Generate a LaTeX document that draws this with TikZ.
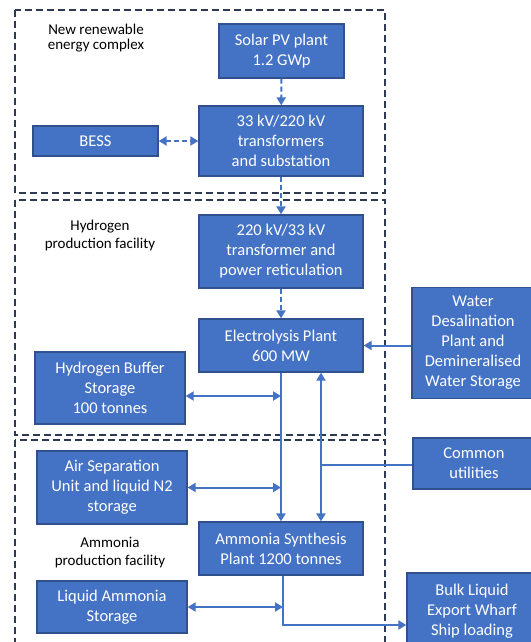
\documentclass[tikz,border=0pt]{standalone}
\usepackage{fontspec}
\setmainfont{Carlito}
\usetikzlibrary{arrows.meta,calc}
\definecolor{boxfill}{HTML}{4472C4}
\definecolor{boxline}{HTML}{2F528F}
\definecolor{framec}{HTML}{2E3A52}
\definecolor{arrowc}{HTML}{4472C4}
\begin{document}
\begin{tikzpicture}[x=1pt,y=-1pt,
  blk/.style={draw=boxline, line width=1.3pt, fill=boxfill, text=white, align=center, inner sep=0pt, font=\fontsize{16.5}{20}\selectfont},
  lbl/.style={align=center, text=black, inner sep=0pt, font=\fontsize{15}{18}\selectfont},
  frm/.style={draw=framec, line width=1.6pt, dash pattern=on 7pt off 4pt},
  con/.style={draw=arrowc, line width=2pt},
  dsh/.style={dash pattern=on 5pt off 3pt},
  tip/.style={-{Triangle[width=9pt,length=8pt]}},
  both/.style={{Triangle[width=9pt,length=8pt]}-{Triangle[width=9pt,length=8pt]}}]
\useasboundingbox (0,0) rectangle (530,642);
% frames
\draw[frm] (15,10) rectangle (385,193);
\draw[frm] (15,200) rectangle (385,435);
\draw[frm] (15,440) rectangle (385,670);
% labels
\node[lbl, font=\fontsize{15}{14.5}\selectfont] (l1) at (96,38) {New renewable\\energy complex};
\node[lbl] (l2) at (100,235) {Hydrogen\\production facility};
\node[lbl] (l3) at (110,553) {Ammonia\\production facility};
% boxes
\node[blk, minimum width=125pt, minimum height=54pt] (solar) at (281.5,51) {Solar PV plant\\1.2 GWp};
\node[blk, minimum width=164pt, minimum height=70pt] (tr) at (281,141) {33 kV/220 kV\\transformers\\and substation};
\node[blk, minimum width=125pt, minimum height=30pt] (bess) at (95.5,141) {BESS};
\node[blk, minimum width=164pt, minimum height=73pt] (t2) at (281,251.5) {220 kV/33 kV\\transformer and\\power reticulation};
\node[blk, minimum width=164pt, minimum height=53pt] (elec) at (281,345.5) {Electrolysis Plant\\600 MW};
\node[blk, minimum width=150pt, minimum height=72pt] (h2) at (110,388) {Hydrogen Buffer\\Storage\\100 tonnes};
\node[blk, minimum width=122pt, minimum height=111pt] (desal) at (473,343) {Water\\Desalination\\Plant and\\Demineralised\\Water Storage};
\node[blk, minimum width=122pt, minimum height=51pt] (cu) at (474,463.5) {Common\\utilities};
\node[blk, minimum width=150pt, minimum height=73pt] (air) at (112,487.5) {Air Separation\\Unit and liquid N2\\storage};
\node[blk, minimum width=164pt, minimum height=53pt] (amm) at (281,548.5) {Ammonia Synthesis\\Plant 1200 tonnes};
\node[blk, minimum width=150pt, minimum height=52pt] (liq) at (112,607) {Liquid Ammonia\\Storage};
\node[blk, minimum width=130pt, minimum height=76pt] (bulk) at (472,611) {Bulk Liquid\\Export Wharf\\Ship loading};
% connectors
\draw[con, dsh, tip] (solar) -- (tr);
\draw[con, dsh, both] (bess) -- (tr);
\draw[con, dsh, tip] (tr) -- (t2);
\draw[con, dsh, tip] (t2) -- (elec);
\draw[con, tip] (desal.west |- elec.east) -- (elec.east);
\draw[con, tip] (elec) -- (amm);
\draw[con, both] ([yshift=-8pt]h2.east) -- ([yshift=-8pt]h2.east -| elec.south);
\draw[con, both] (air.east) -- (air.east -| elec.south);
\draw[con, both] (liq.east) -- ([xshift=2pt]liq.east -| amm.south);
\coordinate (j) at (321,465);
\coordinate (ex) at (300,625);
\draw[con] (cu.west |- j) -- (j);
\draw[con, tip] (j) -- (j |- elec.south);
\draw[con, tip] (j) -- (j |- amm.north);
\draw[con, tip] ([xshift=2pt]amm.south) |- (bulk.west |- ex);
\end{tikzpicture}
\end{document}
